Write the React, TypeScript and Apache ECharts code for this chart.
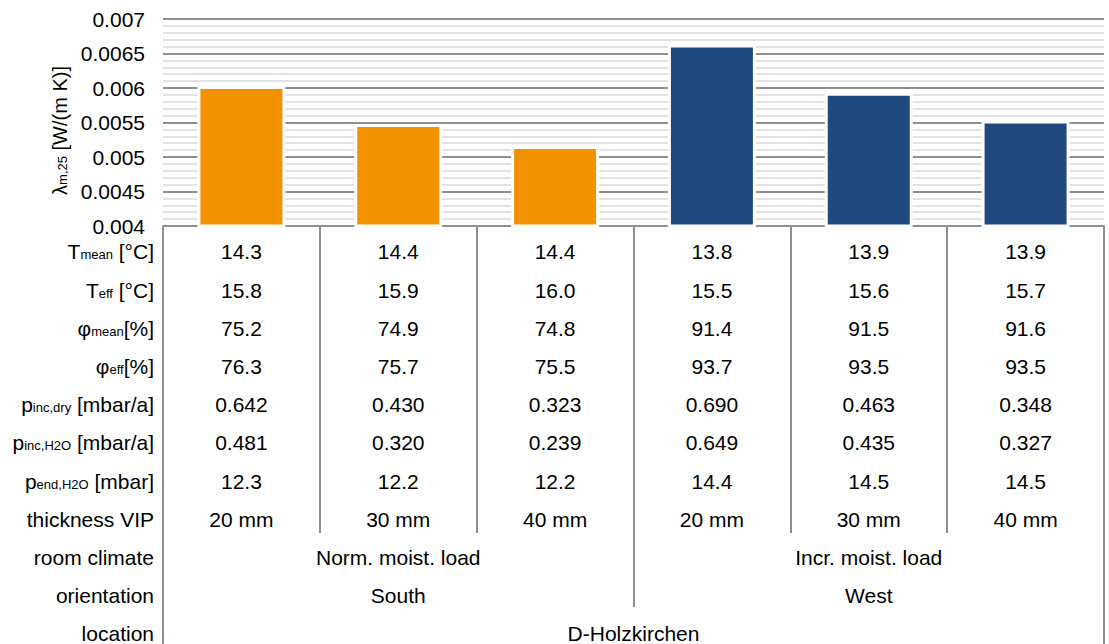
import React, { useEffect, useRef } from 'react';
import * as echarts from 'echarts';

// ---- data ----
const categories = ['South 20 mm', 'South 30 mm', 'South 40 mm', 'West 20 mm', 'West 30 mm', 'West 40 mm'];
const lambdaValues = [0.00603, 0.00548, 0.00516, 0.00663, 0.00593, 0.00553];
const groupOfBar = [0, 0, 0, 1, 1, 1];
const groupColors = ['#F29200', '#1F497D'];

const tMean = ['14.3', '14.4', '14.4', '13.8', '13.9', '13.9'];
const tEff = ['15.8', '15.9', '16.0', '15.5', '15.6', '15.7'];
const phiMean = ['75.2', '74.9', '74.8', '91.4', '91.5', '91.6'];
const phiEff = ['76.3', '75.7', '75.5', '93.7', '93.5', '93.5'];
const pIncDry = ['0.642', '0.430', '0.323', '0.690', '0.463', '0.348'];
const pIncH2O = ['0.481', '0.320', '0.239', '0.649', '0.435', '0.327'];
const pEndH2O = ['12.3', '12.2', '12.2', '14.4', '14.5', '14.5'];
const thicknessVIP = ['20 mm', '30 mm', '40 mm', '20 mm', '30 mm', '40 mm'];
const roomClimate = ['Norm. moist. load', 'Incr. moist. load'];
const orientation = ['South', 'West'];
const locationName = ['D-Holzkirchen'];

const rowLabels = [
  'T{sub|mean} [°C]',
  'T{sub|eff} [°C]',
  'φ{sub|mean}[%]',
  'φ{sub|eff}[%]',
  'p{sub|inc,dry} [mbar/a]',
  'p{sub|inc,H2O} [mbar/a]',
  'p{sub|end,H2O} [mbar]',
  'thickness VIP',
  'room climate',
  'orientation',
  'location',
];

const yMin = 0.004;
const yMax = 0.007;
const yInterval = 0.0005;

const FONT = "'Liberation Sans', Arial, sans-serif";
const ROW_H = 38.2;
const GRID_TOP = 19;
const GRID_BOTTOM = 418;
const AXIS_Y = 644 - GRID_BOTTOM;
const LINE_GRAY = '#8f8f8f';

export default function App() {
  const ref = useRef<HTMLDivElement>(null);
  useEffect(() => {
    if (!ref.current) return;
    const chart = echarts.init(ref.current, undefined, { renderer: 'svg' });
    const perCat = [tMean, tEff, phiMean, phiEff, pIncDry, pIncH2O, pEndH2O, thicknessVIP];
    const firstRowCenter = 252;
    const groupRowCenter = firstRowCenter + ROW_H * 8;
    const locRowCenter = firstRowCenter + ROW_H * 10;
    const baseLabel = { fontSize: 21, fontFamily: FONT, color: '#000', lineHeight: ROW_H };
    const option: any = {
      animation: false,
      grid: {
        left: 163,
        right: 5,
        top: GRID_TOP,
        bottom: GRID_BOTTOM,
        containLabel: false,
        outerBoundsMode: 'none',
      },
      xAxis: [
        {
          type: 'category',
          position: 'bottom',
          data: categories,
          axisLine: { show: true, lineStyle: { color: LINE_GRAY, width: 2 } },
          axisTick: { show: true, interval: 0, length: 533 - AXIS_Y, lineStyle: { color: LINE_GRAY, width: 2 } },
          axisLabel: {
            ...baseLabel,
            interval: 0,
            margin: firstRowCenter - AXIS_Y - ROW_H / 2,
            formatter: (_v: string, idx: number) => perCat.map((r) => r[idx]).join('\n'),
          },
        },
        {
          type: 'category',
          position: 'bottom',
          data: roomClimate,
          axisLine: { show: false },
          axisTick: { show: true, interval: 0, length: 607 - AXIS_Y, lineStyle: { color: LINE_GRAY, width: 2 } },
          axisLabel: {
            ...baseLabel,
            interval: 0,
            margin: groupRowCenter - AXIS_Y - ROW_H / 2,
            formatter: (_v: string, idx: number) => roomClimate[idx] + '\n' + orientation[idx],
          },
        },
        {
          type: 'category',
          position: 'bottom',
          data: locationName,
          axisLine: { show: false },
          axisTick: { show: true, interval: 0, length: 644 - AXIS_Y, lineStyle: { color: LINE_GRAY, width: 2 } },
          axisLabel: {
            ...baseLabel,
            interval: 0,
            margin: locRowCenter - AXIS_Y - ROW_H / 2,
          },
        },
      ],
      yAxis: {
        type: 'value',
        min: yMin,
        max: yMax,
        interval: yInterval,
        axisLine: { show: false },
        axisTick: { show: false },
        axisLabel: {
          fontSize: 21,
          fontFamily: FONT,
          color: '#000',
          margin: 18,
          rich: { v: { fontSize: 21, fontFamily: FONT, color: '#000' } },
          formatter: (v: number) => '{v|' + String(parseFloat(v.toFixed(4))) + '}',
        },
        splitLine: { show: true, lineStyle: { color: LINE_GRAY, width: 2 } },
        minorTick: { show: false, splitNumber: 5 },
        minorSplitLine: { show: true, lineStyle: { color: '#d9d9d9', width: 1.5 } },
        name: 'λ{sub|m,25} [W/(m K)]',
        nameLocation: 'middle',
        nameRotate: 90,
        nameGap: 70,
        nameTextStyle: {
          fontSize: 20,
          fontFamily: FONT,
          color: '#000',
          padding: [0, 16, 0, 0],
          rich: { sub: { fontSize: 13, fontFamily: FONT, color: '#000', padding: [6, 0, 0, 0] } },
        },
      },
      series: [
        {
          type: 'bar',
          xAxisIndex: 0,
          barWidth: 88,
          data: lambdaValues.map((v, i) => ({
            value: v,
            itemStyle: { color: groupColors[groupOfBar[i]] },
          })),
          itemStyle: { borderColor: '#ffffff', borderWidth: 3 },
        },
      ],
      graphic: [
        {
          type: 'text',
          x: 154,
          y: firstRowCenter - ROW_H / 2,
          style: {
            text: rowLabels.join('\n'),
            fontSize: 21,
            fontFamily: FONT,
            fill: '#000',
            align: 'right',
            verticalAlign: 'top',
            lineHeight: ROW_H,
            rich: {
              sub: { fontSize: 13, fontFamily: FONT, fill: '#000', padding: [6, 0, 0, 0] },
            },
          },
        },
      ],
    };
    chart.setOption(option);
    return () => chart.dispose();
  }, []);
  return (
    <div
      ref={ref}
      style={{ position: 'fixed', left: 0, top: 0, width: 1109, height: 644, background: '#fff' }}
    />
  );
}
